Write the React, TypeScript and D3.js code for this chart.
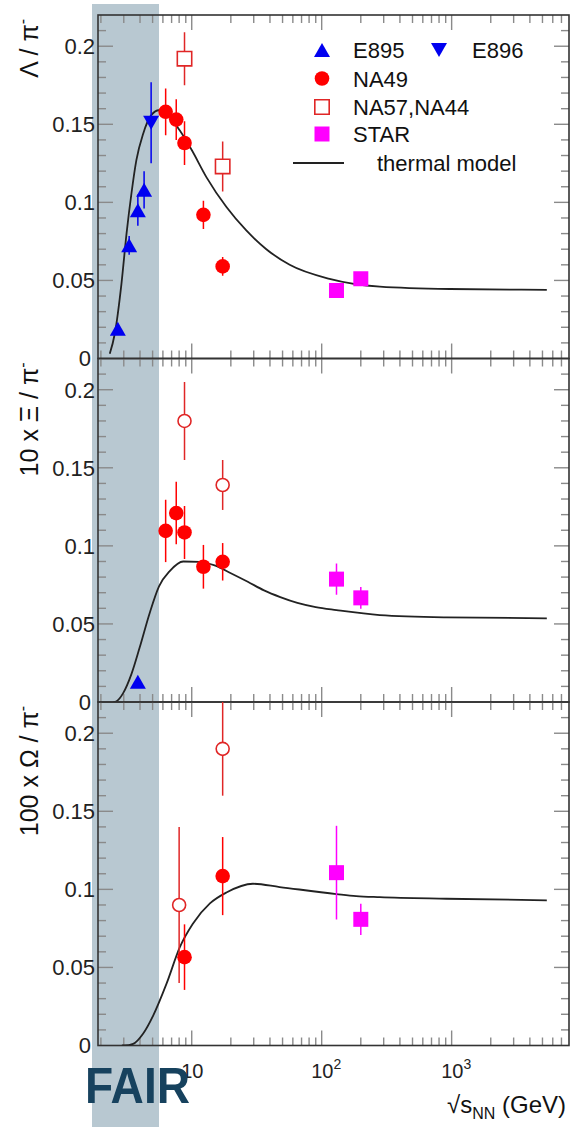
import React, { useEffect, useRef } from 'react';
import * as d3 from 'd3';

// [sqrt(s_NN) GeV, ratio, error]
type Pt = [number, number, number];

// Lambda / pi-
const lambdaE895: Pt[] = [[2.7, 0.019, 0.002], [3.3, 0.0725, 0.006], [3.85, 0.095, 0.01], [4.3, 0.108, 0.012]];
const lambdaE896: Pt[] = [[4.87, 0.151, 0.026]];
const lambdaNA49: Pt[] = [[6.3, 0.158, 0.015], [7.6, 0.153, 0.013], [8.8, 0.138, 0.014], [12.3, 0.092, 0.009], [17.3, 0.059, 0.006]];
const lambdaNA57: Pt[] = [[8.8, 0.192, 0.017], [17.3, 0.123, 0.016]];
const lambdaSTAR: Pt[] = [[130, 0.0436, 0.002], [200, 0.0511, 0.002]];
const lambdaModel: [number, number][] = [
  [2.34, 0.003], [2.56, 0.016], [2.88, 0.048], [3.15, 0.08], [3.44, 0.106], [3.75, 0.127], [4.23, 0.144],
  [4.9, 0.156], [5.6, 0.159], [6.4, 0.157], [8.1, 0.146], [10, 0.1335], [13, 0.116], [18.5, 0.097],
  [26.3, 0.082], [37.5, 0.07], [56.7, 0.06], [115, 0.051], [280, 0.046], [966, 0.0445], [5400, 0.044],
];

// 10 x Xi / pi-
const xiE895: Pt[] = [[3.85, 0.013, 0]];
const xiNA49: Pt[] = [[6.3, 0.1096, 0.02], [7.6, 0.121, 0.02], [8.8, 0.1086, 0.017], [12.3, 0.0866, 0.014], [17.3, 0.0898, 0.012]];
const xiNA57: Pt[] = [[8.8, 0.18, 0.025], [17.3, 0.139, 0.016]];
const xiSTAR: Pt[] = [[130, 0.0787, 0.01], [200, 0.0667, 0.007]];
const xiModel: [number, number][] = [
  [2.5, 0], [2.64, 0.0005], [2.96, 0.0055], [3.44, 0.018], [3.98, 0.035], [4.75, 0.057], [5.6, 0.074],
  [6.8, 0.084], [8.6, 0.09], [11.5, 0.0898], [15, 0.0875], [20, 0.0825], [27, 0.077], [36, 0.0715],
  [48, 0.0672], [65, 0.0635], [90, 0.0608], [130, 0.0589], [280, 0.0557], [910, 0.0542], [5400, 0.0536],
];

// 100 x Omega / pi-
const omegaNA49: Pt[] = [[8.8, 0.0566, 0.021], [17.3, 0.1085, 0.025]];
const omegaNA57: Pt[] = [[8.0, 0.09, 0.05], [17.3, 0.19, 0.03]];
const omegaSTAR: Pt[] = [[130, 0.1107, 0.03], [200, 0.0808, 0.01]];
const omegaModel: [number, number][] = [
  [2.9, 0], [3.05, 0], [3.54, 0.001], [4.22, 0.0075], [5.04, 0.019], [6.4, 0.0396], [8.1, 0.063],
  [10.2, 0.078], [13.8, 0.091], [18.5, 0.098], [29.6, 0.1036], [47.5, 0.1015], [130, 0.097],
  [184, 0.0957], [280, 0.095], [910, 0.094], [5400, 0.093],
];

const yLabels = [0, 0.05, 0.1, 0.15, 0.2];
const xLabels: [number, string][] = [[10, ''], [100, '2'], [1000, '3']];
const xDomain = [1.9, 8000];
const yDomain = [0, 0.22];

const FONT = "'Liberation Sans', Arial, Helvetica, sans-serif";
const BLUE = '#0000f0';
const RED = '#ff0000';
const OPEN_RED = '#e02626';
const MAGENTA = '#ff00ff';

type Kind = 'triUp' | 'triDown' | 'circle' | 'openCircle' | 'square' | 'openSquare';

function markerPath(kind: Kind) {
  if (kind === 'triUp') return 'M0,-7L8,7L-8,7Z';
  if (kind === 'triDown') return 'M0,7L8,-7L-8,-7Z';
  if (kind === 'square') return 'M-7.5,-7.5H7.5V7.5H-7.5Z';
  if (kind === 'openSquare') return 'M-7.2,-7.2H7.2V7.2H-7.2Z';
  return '';
}

function drawMarker(g: d3.Selection<SVGGElement, unknown, null, undefined>, kind: Kind, cx: number, cy: number, color: string) {
  if (kind === 'circle') {
    g.append('circle').attr('cx', cx).attr('cy', cy).attr('r', 7.3).attr('fill', color);
  } else if (kind === 'openCircle') {
    g.append('circle').attr('cx', cx).attr('cy', cy).attr('r', 6.5)
      .attr('fill', '#fff').attr('stroke', color).attr('stroke-width', 1.6);
  } else {
    const open = kind === 'openSquare';
    g.append('path').attr('d', markerPath(kind)).attr('transform', `translate(${cx},${cy})`)
      .attr('fill', open ? '#fff' : color)
      .attr('stroke', open ? color : 'none')
      .attr('stroke-width', 1.6);
  }
}

export default function App() {
  const svgRef = useRef<SVGSVGElement>(null);

  useEffect(() => {
    if (!svgRef.current) return;
    const svg = d3.select(svgRef.current);
    svg.selectAll('*').remove();

    const left = 98, right = 569, top0 = 15, panelH = 343.5;

    const x = d3.scaleLog().domain(xDomain).range([left, right]);

    // FAIR band
    svg.append('rect')
      .attr('x', 92).attr('y', 4).attr('width', 67).attr('height', 1123)
      .attr('fill', '#b8c8d1');

    const panels = [
      {
        title: 'Λ / π', model: lambdaModel,
        series: [
          { data: lambdaE895, kind: 'triUp' as Kind, color: BLUE },
          { data: lambdaE896, kind: 'triDown' as Kind, color: BLUE },
          { data: lambdaNA57, kind: 'openSquare' as Kind, color: OPEN_RED },
          { data: lambdaNA49, kind: 'circle' as Kind, color: RED },
          { data: lambdaSTAR, kind: 'square' as Kind, color: MAGENTA },
        ],
      },
      {
        title: '10 x Ξ / π', model: xiModel,
        series: [
          { data: xiE895, kind: 'triUp' as Kind, color: BLUE },
          { data: xiNA57, kind: 'openCircle' as Kind, color: OPEN_RED },
          { data: xiNA49, kind: 'circle' as Kind, color: RED },
          { data: xiSTAR, kind: 'square' as Kind, color: MAGENTA },
        ],
      },
      {
        title: '100 x Ω / π', model: omegaModel,
        series: [
          { data: omegaNA57, kind: 'openCircle' as Kind, color: OPEN_RED },
          { data: omegaNA49, kind: 'circle' as Kind, color: RED },
          { data: omegaSTAR, kind: 'square' as Kind, color: MAGENTA },
        ],
      },
    ];

    const xTicks = x.ticks().filter(v => v > xDomain[0] && v < xDomain[1]);
    const isDecade = (v: number) => Math.abs(Math.log10(v) - Math.round(Math.log10(v))) < 1e-6;
    const yTicks = d3.range(1, 22).map(i => i / 100);

    panels.forEach((p, i) => {
      const top = top0 + i * panelH;
      const bottom = top + panelH;
      const y = d3.scaleLinear().domain(yDomain).range([bottom, top]);

      const clipId = `clip-${i}`;
      svg.append('clipPath').attr('id', clipId)
        .append('rect').attr('x', left).attr('y', top).attr('width', right - left).attr('height', panelH);

      const axes = svg.append('g').attr('stroke', '#8a8a8a').attr('stroke-width', 1.4);

      // x ticks, bottom and top
      xTicks.forEach(v => {
        const len = isDecade(v) ? 15 : 8;
        axes.append('line').attr('x1', x(v)).attr('x2', x(v)).attr('y1', bottom).attr('y2', bottom - len);
        axes.append('line').attr('x1', x(v)).attr('x2', x(v)).attr('y1', top).attr('y2', top + len);
      });
      // y ticks, left and right
      yTicks.forEach((v, k) => {
        const len = (k + 1) % 5 === 0 ? 15 : 8;
        axes.append('line').attr('x1', left).attr('x2', left + len).attr('y1', y(v)).attr('y2', y(v));
        axes.append('line').attr('x1', right).attr('x2', right - len).attr('y1', y(v)).attr('y2', y(v));
      });

      // frame
      svg.append('rect')
        .attr('x', left).attr('y', top).attr('width', right - left).attr('height', panelH)
        .attr('fill', 'none').attr('stroke', '#333').attr('stroke-width', 1.6);

      // y tick labels
      svg.append('g').selectAll('text')
        .data(yLabels)
        .enter().append('text')
        .attr('x', d => (d === 0 ? 91 : 95))
        .attr('y', d => y(d))
        .attr('dy', '0.36em')
        .attr('text-anchor', 'end')
        .attr('font-family', FONT)
        .attr('font-size', 22)
        .attr('fill', '#222')
        .text(d => String(d));

      // y title
      const t = svg.append('text')
        .attr('transform', `translate(38,${top + 4}) rotate(-90)`)
        .attr('text-anchor', 'end')
        .attr('font-family', FONT)
        .attr('font-size', 25)
        .attr('fill', '#111');
      t.append('tspan').text(p.title);
      t.append('tspan').attr('dy', -10).attr('font-size', 16).text('-');

      const plot = svg.append('g').attr('clip-path', `url(#${clipId})`);

      // thermal model
      const line = d3.line<[number, number]>()
        .x(d => x(d[0]))
        .y(d => y(d[1]))
        .curve(d3.curveMonotoneX);
      plot.append('path')
        .attr('d', line(p.model))
        .attr('fill', 'none')
        .attr('stroke', '#222')
        .attr('stroke-width', 1.8);

      // error bars then markers
      p.series.forEach(s => {
        s.data.forEach(([xv, yv, e]) => {
          if (e > 0) {
            plot.append('line')
              .attr('x1', x(xv)).attr('x2', x(xv))
              .attr('y1', y(yv - e)).attr('y2', y(yv + e))
              .attr('stroke', s.color).attr('stroke-width', 1.5);
          }
        });
      });
      p.series.forEach(s => {
        s.data.forEach(([xv, yv]) => drawMarker(plot, s.kind, x(xv), y(yv), s.color));
      });
    });

    // legend (top panel)
    const leg = svg.append('g').attr('font-family', FONT).attr('font-size', 22).attr('fill', '#111');
    const rows: { label: string; kind: Kind | 'line'; color: string; mx: number; tx: number; y: number }[] = [
      { label: 'E895', kind: 'triUp', color: BLUE, mx: 322, tx: 353, y: 58 },
      { label: 'E896', kind: 'triDown', color: BLUE, mx: 439, tx: 472, y: 58 },
      { label: 'NA49', kind: 'circle', color: RED, mx: 322, tx: 353, y: 86.5 },
      { label: 'NA57,NA44', kind: 'openSquare', color: OPEN_RED, mx: 322, tx: 353, y: 115 },
      { label: 'STAR', kind: 'square', color: MAGENTA, mx: 322, tx: 353, y: 142 },
      { label: 'thermal model', kind: 'line', color: '#222', mx: 318, tx: 377, y: 171 },
    ];
    rows.forEach(r => {
      if (r.kind === 'line') {
        leg.append('line').attr('x1', 293).attr('x2', 344).attr('y1', r.y - 8).attr('y2', r.y - 8)
          .attr('stroke', r.color).attr('stroke-width', 1.8);
      } else {
        drawMarker(leg, r.kind, r.mx, r.y - 8, r.color);
      }
      leg.append('text').attr('x', r.tx).attr('y', r.y).text(r.label);
    });

    // x tick labels (bottom panel only)
    const xl = svg.append('g').attr('font-family', FONT).attr('font-size', 20).attr('fill', '#222');
    xLabels.forEach(([v, sup]) => {
      const tx = xl.append('text').attr('x', x(v) - 10.5).attr('y', 1078);
      tx.append('tspan').text('10');
      if (sup) tx.append('tspan').attr('dy', -9).attr('font-size', 14).text(sup);
    });

    // x title
    const xt = svg.append('text')
      .attr('x', 566).attr('y', 1113)
      .attr('text-anchor', 'end')
      .attr('font-family', FONT)
      .attr('font-size', 24)
      .attr('fill', '#111');
    xt.append('tspan').text('√s');
    xt.append('tspan').attr('dy', 6).attr('font-size', 16).text('NN');
    xt.append('tspan').attr('dy', -6).text(' (GeV)');

    // FAIR label
    svg.append('text')
      .attr('x', 85).attr('y', 1103)
      .attr('font-family', FONT)
      .attr('font-weight', 'bold')
      .attr('font-size', 50)
      .attr('textLength', 105)
      .attr('lengthAdjust', 'spacingAndGlyphs')
      .attr('fill', '#17425e')
      .text('FAIR');
  }, []);

  return (
    <div style={{ position: 'absolute', left: 0, top: 0 }}>
      <svg ref={svgRef} width={570} height={1130} style={{ display: 'block' }} />
    </div>
  );
}
